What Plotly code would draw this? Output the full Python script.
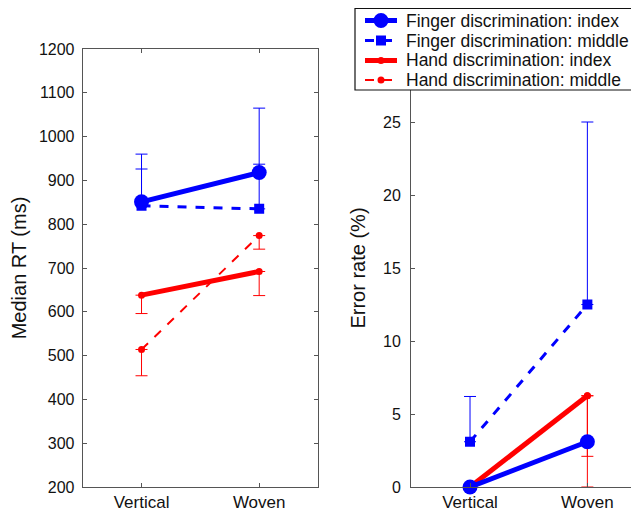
import plotly.graph_objects as go

conditions = ["Vertical", "Woven"]

# Median RT (ms)
rt_finger_index = [851, 918]
rt_finger_middle = [842, 835]
rt_hand_index = [638, 692]
rt_hand_middle = [514, 774]
rt_finger_index_err_up = [109, 147]
rt_finger_middle_err_up = [84, 102]
rt_hand_index_err_down = [42, 55]
rt_hand_middle_err_down = [60, 31]

# Error rate (%)
er_finger_index = [0, 3.1]
er_finger_middle = [3.1, 12.5]
er_hand_index = [0, 6.25]
er_hand_middle = [0, 6.25]
er_finger_middle_err_up = [3.1, 12.5]
er_hand_index_err_down = [0, 4.15]
er_hand_middle_err_down = [0, 6.25]

rt_ticks = [200, 300, 400, 500, 600, 700, 800, 900, 1000, 1100, 1200]
er_ticks = [0, 5, 10, 15, 20, 25]

names = ["Finger discrimination: index", "Finger discrimination: middle",
         "Hand discrimination: index", "Hand discrimination: middle"]

BLUE = "#0000ff"
RED = "#ff0000"
AX = "#555555"
TXT = "#111111"
FONT = "Liberation Sans, Arial, sans-serif"

styles = [
    dict(line=dict(color=BLUE, width=5), marker=dict(symbol="circle", size=15, color=BLUE)),
    dict(line=dict(color=BLUE, width=3, dash="dash"), marker=dict(symbol="square", size=10, color=BLUE)),
    dict(line=dict(color=RED, width=5), marker=dict(symbol="circle", size=7, color=RED)),
    dict(line=dict(color=RED, width=2, dash="dash"), marker=dict(symbol="circle", size=7, color=RED)),
]

def eb(color, up=None, down=None):
    return dict(type="data", symmetric=False,
                array=up if up is not None else [0, 0],
                arrayminus=down if down is not None else [0, 0],
                color=color, thickness=1, width=6)

fig = go.Figure()

rt_data = [
    (rt_finger_index, eb(BLUE, up=rt_finger_index_err_up)),
    (rt_finger_middle, eb(BLUE, up=rt_finger_middle_err_up)),
    (rt_hand_index, eb(RED, down=rt_hand_index_err_down)),
    (rt_hand_middle, eb(RED, down=rt_hand_middle_err_down)),
]
er_data = [
    (er_finger_index, None),
    (er_finger_middle, eb(BLUE, up=er_finger_middle_err_up)),
    (er_hand_index, eb(RED, down=er_hand_index_err_down)),
    (er_hand_middle, eb(RED, down=er_hand_middle_err_down)),
]

order = [3, 2, 1, 0]
for i in order:
    y, err = rt_data[i]
    fig.add_trace(go.Scatter(x=[0, 1], y=y, mode="lines+markers", name=names[i],
                             error_y=err, showlegend=False, xaxis="x", yaxis="y",
                             **styles[i]))
for i in order:
    y, err = er_data[i]
    kw = dict(error_y=err) if err else {}
    fig.add_trace(go.Scatter(x=[0, 1], y=y, mode="lines+markers", name=names[i],
                             showlegend=False, xaxis="x2", yaxis="y2", cliponaxis=False,
                             **kw, **styles[i]))

# page body has an 8px margin; figure fills the rest of the 639x515 window
OFF = 8
W, H = 639 - OFF, 515 - OFF

def px(x):
    return (x - OFF) / W

def py(y):
    return 1 - (y - OFF) / H

yd = [py(487), py(49)]

axis_base = dict(showline=True, linecolor=AX, linewidth=1, ticks="inside",
                 ticklen=4, tickcolor=AX, showgrid=False, zeroline=False,
                 automargin=False)
xfont = dict(size=17, color=TXT, family=FONT)
yfont = dict(size=16, color=TXT, family=FONT)
tfont = dict(size=20, color=TXT, family=FONT)

# Legend (box, samples and labels in paper coordinates)
shapes = [dict(type="rect", xref="paper", yref="paper",
               x0=px(355), x1=px(638), y0=py(90), y1=py(8.5),
               fillcolor="white", line=dict(color="#111111", width=1.2), layer="above")]
annotations = []
row_y = [20.5, 40.5, 60.5, 80.0]
for i in range(4):
    st = styles[i]
    yy = py(row_y[i])
    shapes.append(dict(type="line", xref="paper", yref="paper",
                       x0=px(365), x1=px(397), y0=yy, y1=yy,
                       line=dict(color=st["line"]["color"], width=st["line"]["width"],
                                 dash=st["line"].get("dash", "solid")), layer="above"))
    r = st["marker"]["size"] / 2
    shapes.append(dict(type="circle" if st["marker"]["symbol"] == "circle" else "rect",
                       xref="paper", yref="paper",
                       x0=px(381 - r), x1=px(381 + r), y0=py(row_y[i] + r), y1=py(row_y[i] - r),
                       fillcolor=st["marker"]["color"], line=dict(width=0), layer="above"))
    annotations.append(dict(text=names[i], xref="paper", yref="paper", x=px(404), y=yy,
                            xanchor="left", yanchor="middle", showarrow=False,
                            font=dict(size=17.5, color=TXT, family=FONT)))

fig.update_layout(
    width=W, height=H,
    margin=dict(l=0, r=0, t=0, b=0),
    paper_bgcolor="white", plot_bgcolor="white",
    font=dict(family=FONT, color=TXT),
    showlegend=False,
    xaxis=dict(domain=[px(82.7), px(318)], range=[-0.5, 1.5], tickvals=[0, 1],
               ticktext=conditions, mirror="ticks", tickfont=xfont, **axis_base),
    yaxis=dict(domain=yd, range=[200, 1200], tickvals=rt_ticks, mirror="ticks",
               ticklabelstandoff=4, tickfont=yfont,
               title=dict(text="Median RT (ms)", font=tfont, standoff=12),
               **axis_base),
    xaxis2=dict(domain=[px(411), 1.0], range=[-0.503, 1.44], tickvals=[0, 1],
                ticktext=conditions, anchor="y2", tickfont=xfont, **axis_base),
    yaxis2=dict(domain=yd, range=[0, 30], tickvals=er_ticks, anchor="x2",
                ticklabelstandoff=6, tickfont=yfont,
                title=dict(text="Error rate (%)", font=tfont, standoff=12),
                **axis_base),
    shapes=shapes,
    annotations=annotations,
)

fig.write_html("out.html")
